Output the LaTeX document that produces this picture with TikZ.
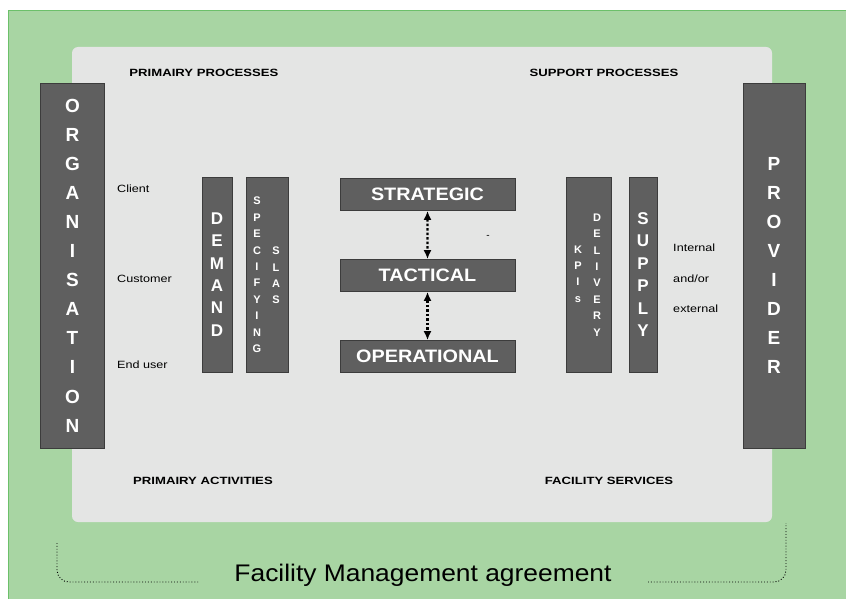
\documentclass[tikz,border=0pt]{standalone}
\usepackage{fontspec}
\setmainfont{Liberation Sans}
\usepackage{xcolor}
\usetikzlibrary{arrows.meta,positioning}

\definecolor{fmgreen}{HTML}{A8D5A3}
\definecolor{fmline}{HTML}{6CC06A}
\definecolor{fmpanel}{HTML}{E4E5E4}
\definecolor{fmbar}{HTML}{5F5F5F}
\definecolor{fmedge}{HTML}{3C3C3C}

\tikzset{
  bar/.style={draw=fmedge, fill=fmbar, line width=0.8pt, inner sep=0pt, text=white, align=center},
  bigletters/.style={font=\fontsize{19}{29.1}\selectfont\bfseries},
  midletters/.style={font=\fontsize{17}{22.4}\selectfont\bfseries},
  smallletters/.style={text=white, align=center, inner sep=0pt, font=\fontsize{11}{16.4}\selectfont\bfseries},
  level/.style={bar, minimum width=159pt, minimum height=32pt, font=\fontsize{18}{20}\selectfont\bfseries, xscale=1.1},
  heading/.style={font=\fontsize{10.5}{12}\selectfont\bfseries, xscale=1.25, inner sep=0pt},
  side/.style={font=\fontsize{10.5}{12}\selectfont, xscale=1.2, anchor=west, inner sep=0pt},
  link/.style={{Latex[length=9pt,width=8pt]}-{Latex[length=9pt,width=8pt]}, dash pattern=on 2.5pt off 2pt, line width=2.2pt},
  agreement/.style={dotted, line width=0.9pt, rounded corners=12pt}
}

\begin{document}
\begin{tikzpicture}[x=1pt,y=-1pt]
\useasboundingbox (0,0) rectangle (846,599);
\fill[white] (0,0) rectangle (846,599);
\draw[fmline, fill=fmgreen, line width=1pt] (8,11) rectangle (850,603);
\fill[fmpanel, rounded corners=6pt] (72,47) rectangle (772,522);

% outer parties
\node[bar, bigletters, minimum width=64pt, minimum height=365pt] (organisation) at (72.5,265.5)
  {O\\R\\G\\A\\N\\I\\S\\A\\T\\I\\O\\N};
\node[bar, bigletters, minimum width=62pt, minimum height=365pt] (provider) at (774,265.5)
  {P\\R\\O\\V\\I\\D\\E\\R};

% headings
\node[heading] (primproc) at (204,73) {PRIMAIRY PROCESSES};
\node[heading] (suppproc) at (604,73) {SUPPORT PROCESSES};
\node[heading] (primact) at (203,481) {PRIMAIRY ACTIVITIES};
\node[heading] (facserv) at (609,481) {FACILITY SERVICES};

% demand side
\node[side] (client) at (117,189) {Client};
\node[side] (customer) at (117,279) {Customer};
\node[side] (enduser) at (117,365) {End user};
\node[bar, midletters, minimum width=30pt, minimum height=195pt] (demand) at (217,274.5)
  {D\\E\\M\\A\\N\\D};
\node[bar, minimum width=42pt, minimum height=195pt] (specbar) at (267,274.5) {};
\node[smallletters] (specifying) at (257,275) {S\\P\\E\\C\\I\\F\\Y\\I\\N\\G};
\node[smallletters] (slas) at (276,275.5) {S\\L\\A\\S};

% levels
\node[level] (strategic) at (427.5,194.5) {STRATEGIC};
\node[level] (tactical) at (427.5,275.5) {TACTICAL};
\node[level] (operational) at (427.5,356.5) {OPERATIONAL};
\draw[link] (strategic) -- (tactical);
\draw[link] (tactical) -- (operational);
\node[font=\fontsize{10}{10}\selectfont, inner sep=0pt] (dash) at (488,237) {-};

% supply side
\node[bar, minimum width=45pt, minimum height=195pt] (delivbar) at (588.5,274.5) {};
\node[smallletters] (kpis) at (578,274) {K\\P\\I\\s};
\node[smallletters] (delivery) at (597,275) {D\\E\\L\\I\\V\\E\\R\\Y};
\node[bar, midletters, minimum width=28pt, minimum height=195pt] (supply) at (643,274.5)
  {S\\U\\P\\P\\L\\Y};
\node[side] (internal) at (673,248) {Internal};
\node[side] (andor) at (673,279) {and/or};
\node[side] (external) at (673,309) {external};

% agreement bracket
\node[font=\fontsize{24}{26}\selectfont, xscale=1.1, inner sep=0pt] (title) at (423,575) {Facility Management agreement};
\draw[agreement] (57,543) -- (57,582) -- (200,582);
\draw[agreement] (648,582) -- (786,582) -- (786,523);
\end{tikzpicture}
\end{document}
